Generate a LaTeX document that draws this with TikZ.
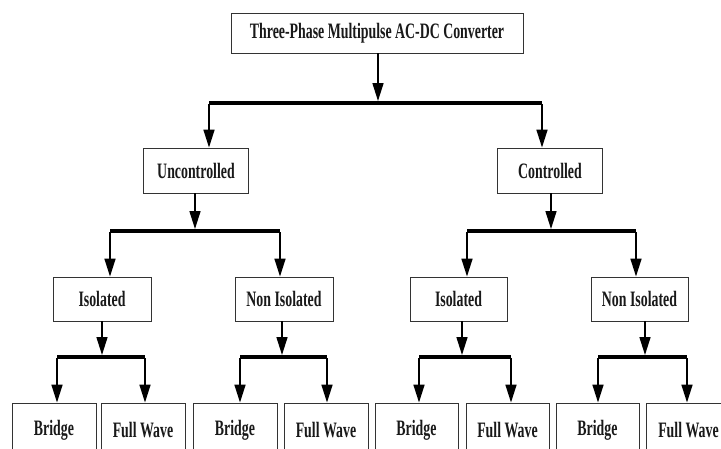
\documentclass[tikz,border=0pt]{standalone}
\usepackage{fontspec}
\newfontfamily\boxfont{Liberation Serif}[FakeStretch=0.63]
\usetikzlibrary{arrows, arrows.meta}
\usetikzlibrary{calc}

\tikzset{
  box/.style={draw=black!80, line width=0.9pt, fill=white, inner sep=0pt,
    font=\boxfont\bfseries\fontsize{22}{26}\selectfont, text=black!90},
  bar/.style={line width=3.6pt},
  arr/.style={line width=1.6pt, -{Triangle[length=18pt, width=11pt]}}
}

\begin{document}
\begin{tikzpicture}[x=1pt, y=-1pt]
    \useasboundingbox (0,0) rectangle (721,448);
    \clip (0,0) rectangle (721,448);

    % boxes
    \node[box, minimum width=292, minimum height=40] (top) at (377,33) {Three-Phase Multipulse AC-DC Converter};

    \node[box, minimum width=105, minimum height=45] (unc) at (196,170.5) {Uncontrolled};
    \node[box, minimum width=105, minimum height=45] (con) at (550,170.5) {Controlled};

    \node[box, minimum width=98, minimum height=44] (iso1) at (102,299) {Isolated};
    \node[box, minimum width=98, minimum height=44] (non1) at (284,299) {Non Isolated};
    \node[box, minimum width=97, minimum height=44] (iso2) at (458.5,299) {Isolated};
    \node[box, minimum width=97, minimum height=44] (non2) at (639.5,299) {Non Isolated};

    \node[box, minimum width=84, minimum height=54] (br1) at (54,430) {Bridge};
    \node[box, minimum width=84, minimum height=54] (fw1) at (143,430) {Full Wave};
    \node[box, minimum width=84, minimum height=54] (br2) at (235,430) {Bridge};
    \node[box, minimum width=84, minimum height=54] (fw2) at (326,430) {Full Wave};
    \node[box, minimum width=83, minimum height=54] (br3) at (416.5,430) {Bridge};
    \node[box, minimum width=83, minimum height=54] (fw3) at (507.5,430) {Full Wave};
    \node[box, minimum width=83, minimum height=54] (br4) at (597.5,430) {Bridge};
    \node[box, minimum width=84, minimum height=54] (fw4) at (688.5,430) {Full Wave};

    % bar ends
    \coordinate (t0) at (378,103);
    \coordinate (l0) at (209,103);
    \coordinate (r0) at (542,103);

    \coordinate (t1) at (195,231);
    \coordinate (l1) at (110,231);
    \coordinate (r1) at (280,231);
    \coordinate (t2) at (551,231);
    \coordinate (l2) at (467,231);
    \coordinate (r2) at (636,231);

    \coordinate (t3) at (102,357);
    \coordinate (l3) at (57,357);
    \coordinate (r3) at (145,357);
    \coordinate (t4) at (282,357);
    \coordinate (l4) at (240,357);
    \coordinate (r4) at (327,357);
    \coordinate (t5) at (462,357);
    \coordinate (l5) at (419,357);
    \coordinate (r5) at (511,357);
    \coordinate (t6) at (645,357);
    \coordinate (l6) at (598,357);
    \coordinate (r6) at (687,357);

    % first level
    \draw[arr] (top.south -| t0) -- ($(t0)+(0,-2)$);
    \draw[bar] (l0) -- (r0);
    \draw[arr] ($(l0)+(0,1)$) -- (l0 |- unc.north);
    \draw[arr] ($(r0)+(0,1)$) -- (r0 |- con.north);

    % second level
    \draw[arr] (unc.south -| t1) -- ($(t1)+(0,-2)$);
    \draw[bar] (l1) -- (r1);
    \draw[arr] ($(l1)+(0,1)$) -- (l1 |- iso1.north);
    \draw[arr] ($(r1)+(0,1)$) -- (r1 |- non1.north);

    \draw[arr] (con.south -| t2) -- ($(t2)+(0,-2)$);
    \draw[bar] (l2) -- (r2);
    \draw[arr] ($(l2)+(0,1)$) -- (l2 |- iso2.north);
    \draw[arr] ($(r2)+(0,1)$) -- (r2 |- non2.north);

    % third level
    \draw[arr] (iso1.south -| t3) -- ($(t3)+(0,-2)$);
    \draw[bar] (l3) -- (r3);
    \draw[arr] ($(l3)+(0,1)$) -- (l3 |- br1.north);
    \draw[arr] ($(r3)+(0,1)$) -- (r3 |- fw1.north);

    \draw[arr] (non1.south -| t4) -- ($(t4)+(0,-2)$);
    \draw[bar] (l4) -- (r4);
    \draw[arr] ($(l4)+(0,1)$) -- (l4 |- br2.north);
    \draw[arr] ($(r4)+(0,1)$) -- (r4 |- fw2.north);

    \draw[arr] (iso2.south -| t5) -- ($(t5)+(0,-2)$);
    \draw[bar] (l5) -- (r5);
    \draw[arr] ($(l5)+(0,1)$) -- (l5 |- br3.north);
    \draw[arr] ($(r5)+(0,1)$) -- (r5 |- fw3.north);

    \draw[arr] (non2.south -| t6) -- ($(t6)+(0,-2)$);
    \draw[bar] (l6) -- (r6);
    \draw[arr] ($(l6)+(0,1)$) -- (l6 |- br4.north);
    \draw[arr] ($(r6)+(0,1)$) -- (r6 |- fw4.north);
\end{tikzpicture}
\end{document}
